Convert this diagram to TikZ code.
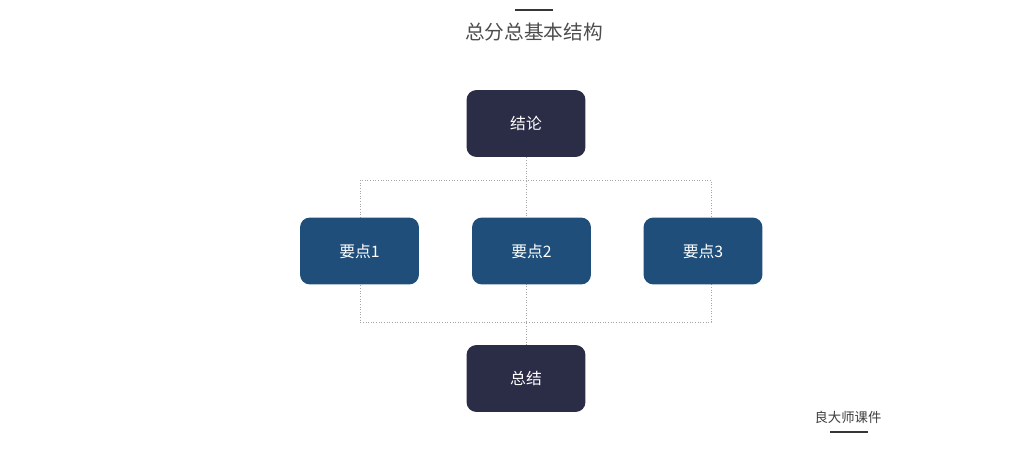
\documentclass[tikz,border=0pt]{standalone}
\usepackage{fontspec}
\setmainfont{Noto Sans CJK SC}
\usetikzlibrary{backgrounds}
\definecolor{darkbox}{HTML}{2B2C46}
\definecolor{bluebox}{HTML}{1E4E79}
\definecolor{titlegray}{HTML}{4D4D4D}
\begin{document}
\begin{tikzpicture}[x=0.02cm, y=-0.02cm,
    darknode/.style={fill=darkbox, rounded corners=0.2cm, minimum width=2.38cm, minimum height=1.34cm, text=white, font=\fontsize{9}{9}\selectfont},
    bluenode/.style={darknode, fill=bluebox},
    frameline/.style={gray!70, line width=0.5pt, densely dotted}]
    \useasboundingbox (0,0) rectangle (1019,473);
\draw[line width=1.2pt, titlegray!70!black] (515,10) -- (553,10);
\node[text=titlegray, font=\fontsize{11.2}{12}\selectfont] (title) at (534,32) {总分总基本结构};
\node[darknode] (concl) at (526,123.5) {结论};
\node[bluenode] (point1) at (359.5,251) {要点1};
\node[bluenode] (point2) at (531.5,251) {要点2};
\node[bluenode] (point3) at (703,251) {要点3};
\node[darknode] (summ) at (526,378.5) {总结};
\coordinate (tl) at (360,180);
\coordinate (br) at (711,322);
    \begin{scope}[on background layer]
    \draw[frameline] (tl) rectangle (br);
    \draw[frameline] (concl.south) -- (summ.north);
    \end{scope}
\node[text=titlegray!80!black, font=\fontsize{7.6}{8}\selectfont] (mark) at (848,417) {良大师课件};
\draw[line width=1.2pt, titlegray!70!black] (830,432) -- (868,432);
    \end{tikzpicture}
\end{document}
